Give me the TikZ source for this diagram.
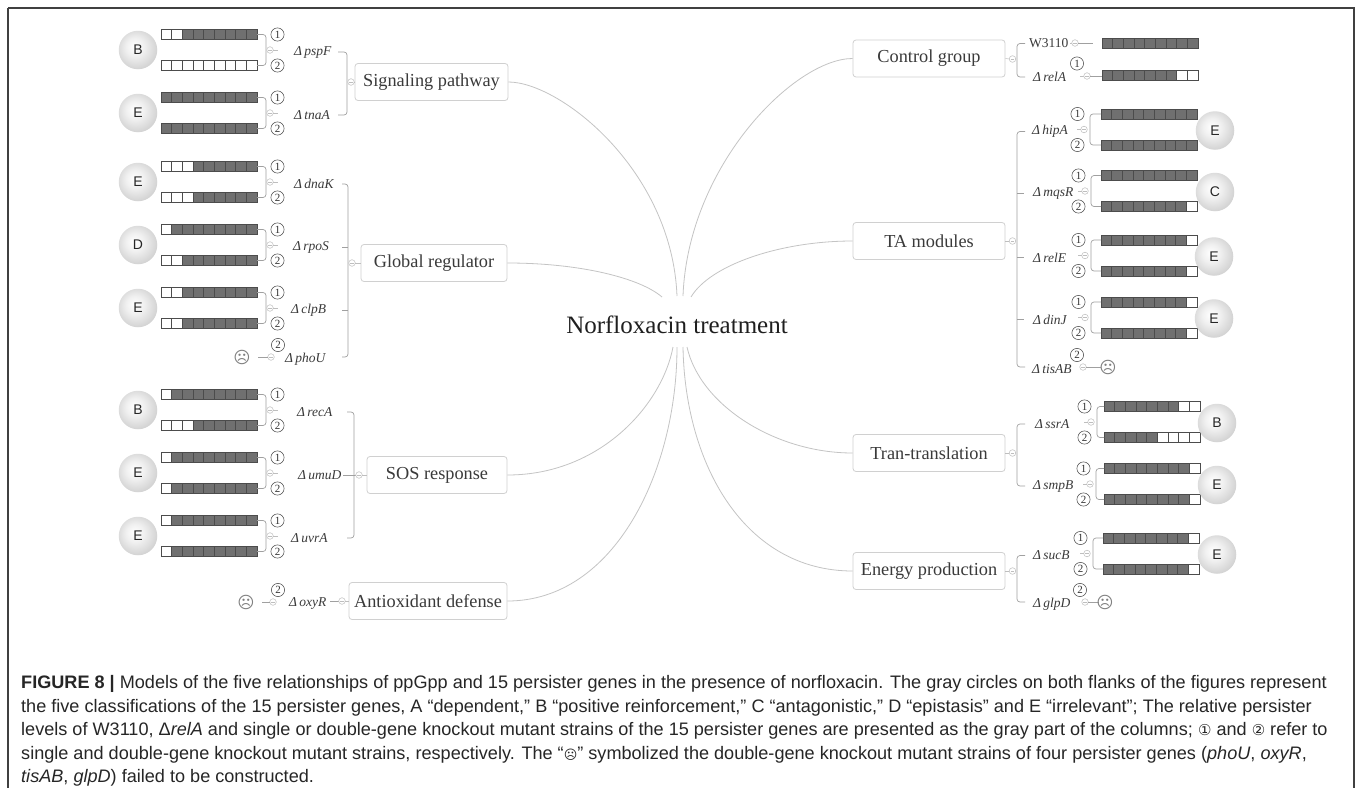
\documentclass[tikz,border=0pt]{standalone}
\usepackage{fontspec}
\setmainfont{Liberation Serif}
\newfontfamily\capfont{Liberation Sans}
\newfontfamily\symfont{DejaVu Sans}
\definecolor{barg}{HTML}{707070}
\definecolor{barline}{HTML}{4C4C4C}
\definecolor{linkg}{HTML}{C4C4C4}
\definecolor{brackg}{HTML}{A0A0A0}
\definecolor{collg}{HTML}{BEBEBE}
\definecolor{boxg}{HTML}{D0D0D0}
\definecolor{txt}{HTML}{3A3A3A}
\definecolor{capc}{HTML}{262626}
\pgfdeclareradialshading{spherefill}{\pgfpoint{-5bp}{5bp}}{color(0bp)=(white); color(12bp)=(white!94!black); color(32bp)=(white!79!black); color(50bp)=(white!65!black)}
\tikzset{
  catbox/.style={draw=boxg,fill=white,rounded corners=3pt,line width=0.8pt,minimum height=37pt,inner sep=0pt,text=txt,font=\fontsize{18.3}{21}\selectfont},
  gene/.style={anchor=west,inner sep=0pt,text=txt,font=\itshape\fontsize{13.5}{15}\selectfont},
  digit/.style={circle,draw=black!70,line width=0.55pt,minimum size=13.2pt,inner sep=0pt,text=black!80,font=\fontsize{11}{11}\selectfont},
  sphere/.style={circle,minimum size=38.5pt,inner sep=0pt,shading=spherefill,font=\capfont\fontsize{14}{15}\selectfont,text=black!85},
  sad/.style={inner sep=0pt,text=black!50,font=\symfont\fontsize{16.5}{17}\selectfont},
  link/.style={draw=linkg,line width=0.8pt},
  brack/.style={draw=brackg,line width=0.7pt,rounded corners=3pt},
  captext/.style={anchor=base west,inner sep=0pt,text=capc,font=\capfont\fontsize{18.1}{22}\selectfont},
}
\newcommand\Coll[2]{%
  \draw[collg,line width=0.5pt,fill=white] (#1,#2) circle (3.3pt);
  \draw[collg,line width=0.5pt] ({#1-1.8},#2) -- ({#1+1.8},#2);
}
\newcommand\LBar[2]{%
  \foreach \i in {0,...,8}{%
    \ifnum\i<#2\relax\def\cc{white}\else\def\cc{barg}\fi
    \filldraw[fill=\cc,draw=barline,line width=0.45pt] ({161+\i*10.67},{#1-5}) rectangle ++(10.67,10);
  }}
\newcommand\RBar[3]{%
  \foreach \i in {0,...,8}{%
    \ifnum\i<\numexpr9-#3\relax\def\cc{barg}\else\def\cc{white}\fi
    \filldraw[fill=\cc,draw=barline,line width=0.45pt] ({#1+\i*10.67},{#2-5}) rectangle ++(10.67,10);
  }}
\newcommand\LGene[6]{% name, c, labelx, nw1, nw2, letter
  \LBar{#2-15.5}{#4}
  \LBar{#2+15.5}{#5}
  \draw[brack] (257,{#2-15.5}) -- (266,{#2-15.5}) -- (266,{#2+15.5}) -- (257,{#2+15.5});
  \node[digit] at (277.5,{#2-15.5}) {1};
  \node[digit] at (277.5,{#2+15.5}) {2};
  \Coll{270}{#2}
  \draw[collg,line width=0.5pt] (273.3,#2) -- (278,#2);
  \node[gene] (g#1) at (#3,{#2+2}) {Δ\,#1};
  \node[sphere] (s#1) at (138,#2) {#6};
}
\newcommand\RGene[9]{% name, c, labelx, xc, nw1, nw2, letter, spherex, barx
  \pgfmathsetmacro\xb{#4+6}
  \RBar{#9}{#2-15.5}{#5}
  \RBar{#9}{#2+15.5}{#6}
  \draw[brack] (#9,{#2-15.5}) -- (\xb,{#2-15.5}) -- (\xb,{#2+15.5}) -- (#9,{#2+15.5});
  \node[digit] at ({\xb-12.5},{#2-15.5}) {1};
  \node[digit] at ({\xb-12.5},{#2+15.5}) {2};
  \Coll{#4}{#2}
  \draw[collg,line width=0.5pt] ({#4-3.3},#2) -- ({#4-7.5},#2);
  \node[gene] (g#1) at (#3,{#2+2}) {Δ\,#1};
  \node[sphere] (s#1) at (#8,{#2+1}) {#7};
}
\begin{document}
\begin{tikzpicture}[x=1pt,y=-1pt]
\useasboundingbox (0,0) rectangle (1357,787);
\fill[white] (0,0) rectangle (1357,787);
\draw[black!75,line width=1.4pt] (8,8) -- (8,795) (8,8) -- (1354,8) -- (1354,795);

% hub
\node[font=\fontsize{25}{28}\selectfont,text=black!88] (hub) at (677,325) {Norfloxacin treatment};
\coordinate (hSig) at (677,296);
\coordinate (hGlob) at (662,297);
\coordinate (hCtrl) at (683,296);
\coordinate (hTA) at (691,297);
\coordinate (hSOS) at (673,347);
\coordinate (hAnti) at (677,347);
\coordinate (hTran) at (687,347);
\coordinate (hEner) at (683,347);

% category boxes
\node[catbox,minimum width=153pt] (sig) at (431.5,82) {Signaling pathway};
\node[catbox,minimum width=146pt] (glob) at (434,263) {Global regulator};
\node[catbox,minimum width=140pt] (sos) at (437,475) {SOS response};
\node[catbox,minimum width=158pt] (anti) at (428,601) {Antioxidant defense};
\node[catbox,minimum width=152pt] (ctrl) at (929,58.5) {Control group};
\node[catbox,minimum width=152pt] (ta) at (929,241) {TA modules};
\node[catbox,minimum width=152pt] (tran) at (929,453) {Tran-translation};
\node[catbox,minimum width=152pt] (ener) at (929,571) {Energy production};

% main connectors
\draw[link] (sig.east) .. controls (560,82) and (672,170) .. (hSig);
\draw[link] (glob.east) .. controls (580,263) and (640,278) .. (hGlob);
\draw[link] (sos.east) .. controls (600,475) and (662,405) .. (hSOS);
\draw[link] (anti.east) .. controls (615,601) and (677,470) .. (hAnti);
\draw[link] (ctrl.west) .. controls (795,58.5) and (688,165) .. (hCtrl);
\draw[link] (ta.west) .. controls (780,241) and (710,265) .. (hTA);
\draw[link] (tran.west) .. controls (775,453) and (700,405) .. (hTran);
\draw[link] (ener.west) .. controls (745,571) and (685,465) .. (hEner);

% ---------- left side ----------
% Signaling pathway
\draw[brack] (338,52) -- (347,52) -- (347,115) -- (338,115);
\Coll{351}{82}
\draw[collg,line width=0.5pt] (354.3,82) -- (sig.west);
\LGene{pspF}{50}{294}{2}{9}{B}
\LGene{tnaA}{113}{294}{0}{0}{E}

% Global regulator
\draw[brack] (342,184) -- (348,184) -- (348,357) -- (342,357);
\draw[brack] (342,247) -- (348,247);
\draw[brack] (342,310) -- (348,310);
\Coll{352}{263}
\draw[collg,line width=0.5pt] (355.3,263) -- (glob.west);
\LGene{dnaK}{182}{294}{3}{3}{E}
\LGene{rpoS}{245}{293}{1}{2}{D}
\LGene{clpB}{308}{291}{2}{2}{E}
\node[gene] (gphoU) at (285,359) {Δ\,phoU};
\node[digit] at (278,345) {2};
\Coll{271}{357}
\draw[brack] (258,357) -- (267.7,357);
\node[sad] (sadphoU) at (242,357) {☹};

% SOS response
\draw[brack] (347,412) -- (354,412) -- (354,538) -- (347,538);
\draw[brack] (343,475) -- (355.7,475);
\Coll{359}{475}
\draw[collg,line width=0.5pt] (362.3,475) -- (sos.west);
\LGene{recA}{410}{297}{1}{3}{B}
\LGene{umuD}{473}{298}{1}{1}{E}
\LGene{uvrA}{536}{291}{1}{1}{E}

% Antioxidant defense
\node[gene] (goxyR) at (289,603) {Δ\,oxyR};
\draw[brack] (330,601) -- (338.7,601);
\Coll{342}{601}
\draw[collg,line width=0.5pt] (345.3,601) -- (anti.west);
\node[digit] at (278,590) {2};
\Coll{273}{602}
\draw[brack] (262,602) -- (269.7,602);
\node[sad] (sadoxyR) at (246,602) {☹};

% ---------- right side ----------
% Control group
\draw[brack] (1025,43.5) -- (1017,43.5) -- (1017,77) -- (1025,77);
\Coll{1012.5}{59}
\draw[collg,line width=0.5pt] (ctrl.east) -- (1009.2,59);
\node[anchor=west,inner sep=0pt,text=txt,font=\fontsize{13.5}{15}\selectfont] (gW) at (1029,43.5) {W3110};
\draw[collg,line width=0.5pt] (1070,43) -- (1071.7,43);
\Coll{1075}{43}
\draw[brack] (1078.3,43) -- (1093,43);
\RBar{1102}{43}{0}
\node[gene] (grelA) at (1033,77) {Δ\,relA};
\node[digit] at (1077,63.5) {1};
\draw[collg,line width=0.5pt] (1080,76) -- (1083.7,76);
\Coll{1087}{76}
\draw[brack] (1090.3,76) -- (1102,76);
\RBar{1102}{75.5}{2}

% TA modules
\draw[brack] (1025,131.5) -- (1017,131.5) -- (1017,367) -- (1025,367);
\foreach \yy in {193,257.5,319.5} \draw[brack] (1017,\yy) -- (1024,\yy);
\Coll{1012.5}{241}
\draw[collg,line width=0.5pt] (ta.east) -- (1009.2,241);
\RGene{hipA}{129.5}{1032}{1084}{0}{0}{E}{1215}{1101}
\RGene{mqsR}{191}{1033}{1085}{0}{1}{C}{1215}{1101}
\RGene{relE}{255.5}{1033}{1085}{1}{1}{E}{1214}{1101}
\RGene{dinJ}{317.5}{1033}{1085}{1}{1}{E}{1214}{1101}
\node[gene] (gtisAB) at (1032,369) {Δ\,tisAB};
\node[digit] at (1077,355) {2};
\Coll{1083}{367}
\draw[brack] (1086.3,367) -- (1101,367);
\node[sad] (sadtisAB) at (1108,367) {☹};

% Tran-translation
\draw[brack] (1025,424) -- (1017,424) -- (1017,486) -- (1025,486);
\Coll{1012.5}{453}
\draw[collg,line width=0.5pt] (tran.east) -- (1009.2,453);
\RGene{ssrA}{422}{1035}{1091}{2}{4}{B}{1217}{1104}
\RGene{smpB}{484}{1033}{1090}{1}{1}{E}{1217}{1104}

% Energy production
\draw[brack] (1025,555.5) -- (1017,555.5) -- (1017,602) -- (1025,602);
\Coll{1012.5}{571}
\draw[collg,line width=0.5pt] (ener.east) -- (1009.2,571);
\RGene{sucB}{553.5}{1033}{1087}{1}{1}{E}{1217}{1103}
\node[gene] (gglpD) at (1033,604) {Δ\,glpD};
\node[digit] at (1080,590) {2};
\Coll{1085}{602}
\draw[brack] (1088.3,602) -- (1099,602);
\node[sad] (sadglpD) at (1105,602) {☹};

% ---------- caption ----------
\node[captext] (c1) at (21,688) {{\bfseries FIGURE 8 |} Models of the five relationships of ppGpp and 15 persister genes in the presence of norfloxacin. The gray circles on both flanks of the figures represent};
\node[captext] (c2) at (21,712) {the five classifications of the 15 persister genes, A “dependent,” B “positive reinforcement,” C “antagonistic,” D “epistasis” and E “irrelevant”; The relative persister};
\node[captext] (c3) at (21,735) {levels of W3110, Δ\textit{relA} and single or double-gene knockout mutant strains of the 15 persister genes are presented as the gray part of the columns; {\symfont\fontsize{15}{19}\selectfont ①} and {\symfont\fontsize{15}{19}\selectfont ②} refer to};
\node[captext] (c4) at (21,759) {single and double-gene knockout mutant strains, respectively. The “{\symfont\fontsize{13}{19}\selectfont ☹}” symbolized the double-gene knockout mutant strains of four persister genes (\textit{phoU}, \textit{oxyR},};
\node[captext] (c5) at (21,782) {\textit{tisAB}, \textit{glpD}) failed to be constructed.};
\end{tikzpicture}
\end{document}
